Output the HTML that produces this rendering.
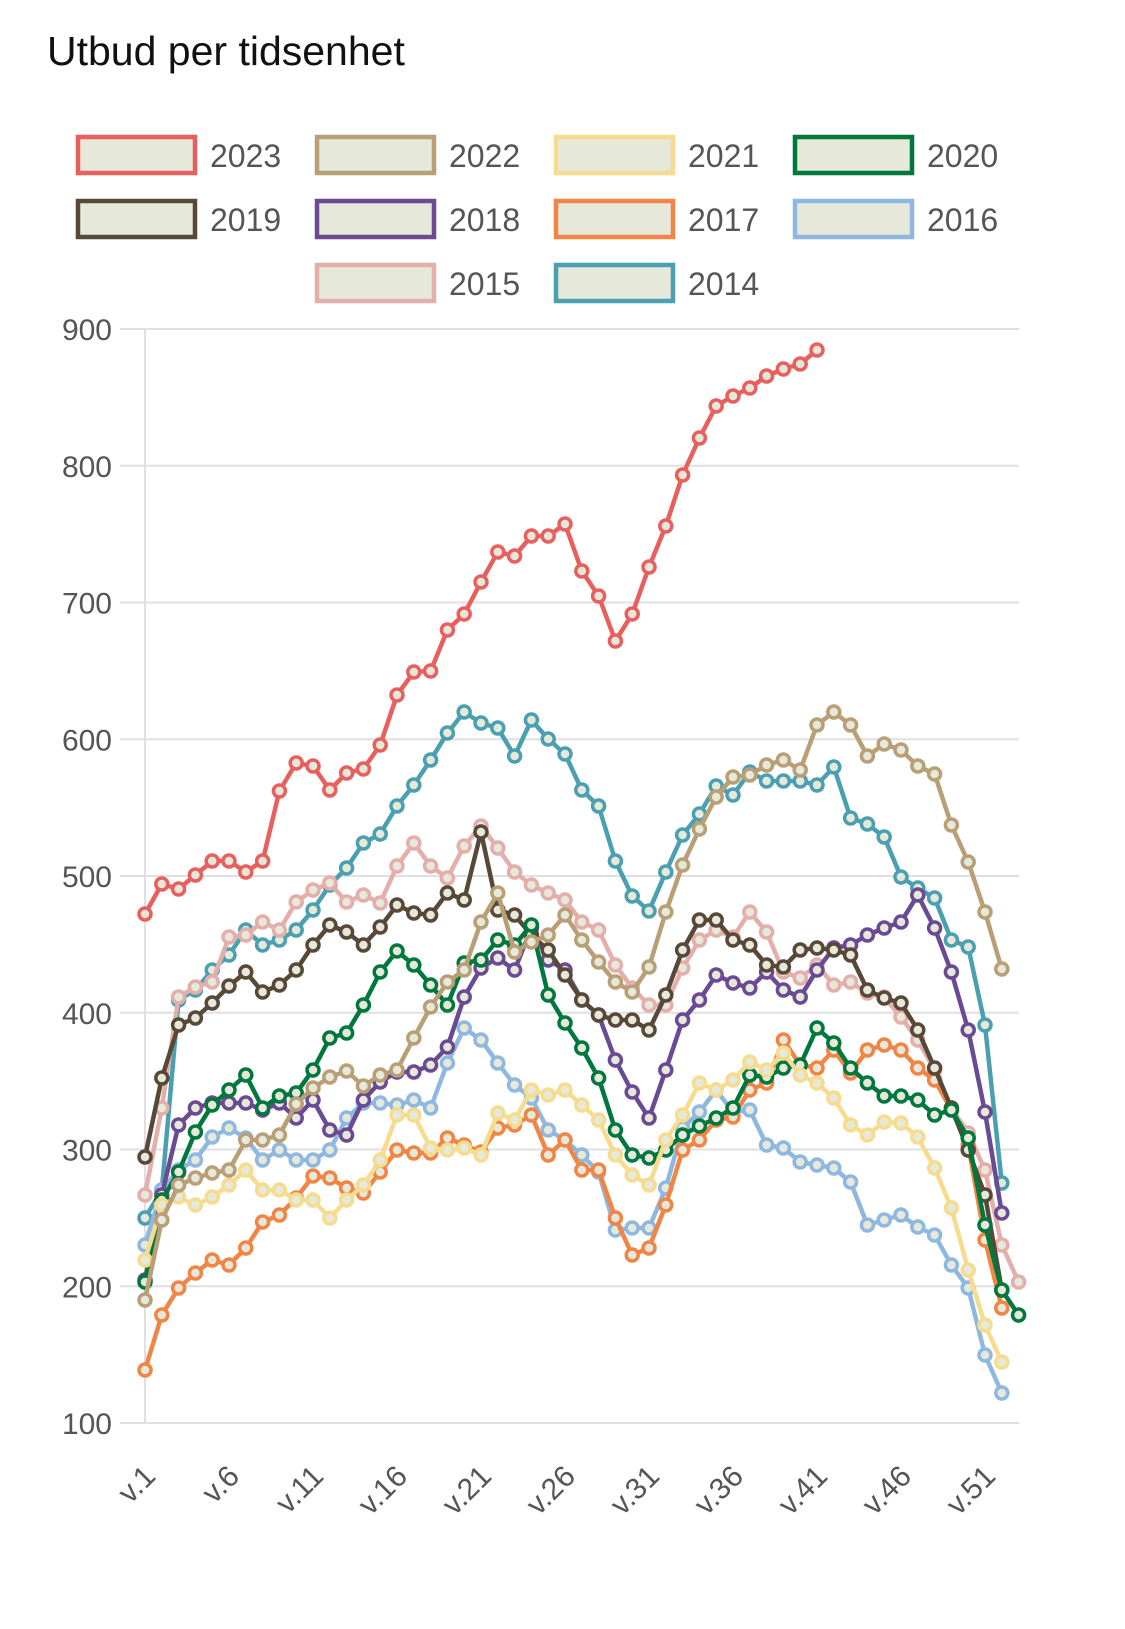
<!DOCTYPE html>
<html><head><meta charset="utf-8">
<style>
body{margin:0;background:#fff;width:1125px;height:1629px;overflow:hidden;font-family:"Liberation Sans",sans-serif;}
svg{position:absolute;left:0;top:0}
</style></head><body>
<svg id="c" width="1125" height="1629" xmlns="http://www.w3.org/2000/svg">
<text x="47" y="65" font-size="41" fill="#111" font-family="Liberation Sans, sans-serif">Utbud per tidsenhet</text>
</svg>
<script>
const s=document.getElementById('c');const NS='http://www.w3.org/2000/svg';
function el(t,a,txt){const e=document.createElementNS(NS,t);for(const k in a)e.setAttribute(k,a[k]);if(txt!==undefined)e.textContent=txt;s.appendChild(e);return e;}
const col={2023:'#e8605e',2022:'#b89f76',2021:'#f5dc8f',2020:'#00773c',2019:'#574838',2018:'#6a4a93',2017:'#f08546',2016:'#8fb8e0',2015:'#e4aeaa',2014:'#4aa0b0'};
const leg=[[2023,78,137],[2022,317,137],[2021,556,137],[2020,795,137],[2019,78,201],[2018,317,201],[2017,556,201],[2016,795,201],[2015,317,265],[2014,556,265]];
leg.forEach(([y,x,t])=>{el('rect',{x:x,y:t,width:117,height:36,fill:'#e6e8da',stroke:col[y],'stroke-width':4.5});
el('text',{x:x+132,y:t+30,'font-size':32,fill:'#555'},y);});
for(let v=100;v<=900;v+=100){const y=329+(900-v)*1.3675;
el('line',{x1:120,x2:1019,y1:y,y2:y,stroke:'#e0e0e0','stroke-width':2});
el('text',{x:112,y:y+11,'font-size':30,fill:'#555','text-anchor':'end'},v);}
el('line',{x1:145,x2:145,y1:329,y2:1423,stroke:'#e0e0e0','stroke-width':2});
const X=i=>145+16.8*i;
for(let w=1;w<=51;w+=5){const x=X(w-1);
el('text',{x:x+12,y:1478,'font-size':30,fill:'#555','text-anchor':'end',transform:`rotate(-45 ${x+12} 1478)`},'v.'+w);}
const d={
2014:[1218,1190,1000,990,970,955,930,945,940,930,910,885,868,843,834,806,785,760,733,712,723,728,756,720,739,754,790,806,861,896,911,872,835,814,786,795,772,781,781,781,785,767,818,824,837,877,888,898,940,947,1025,1183],
2015:[1195,1108,997,987,982,937,935,922,930,902,890,883,902,895,903,866,843,866,878,846,826,848,872,885,893,900,922,930,965,988,1005,1005,968,940,930,937,912,932,972,978,965,985,982,993,997,1017,1040,1070,1108,1133,1170,1245,1282],
2016:[1245,1190,1170,1160,1137,1128,1138,1160,1150,1160,1160,1150,1118,1103,1103,1105,1100,1108,1063,1028,1040,1063,1085,1098,1130,1140,1155,1172,1230,1228,1228,1188,1128,1112,1090,1112,1110,1145,1148,1162,1165,1168,1182,1225,1220,1215,1227,1235,1265,1288,1355,1393],
2017:[1370,1315,1288,1273,1260,1265,1248,1222,1215,1198,1176,1178,1188,1193,1172,1150,1153,1153,1138,1145,1152,1128,1125,1115,1155,1140,1170,1170,1218,1255,1248,1205,1150,1140,1120,1117,1090,1083,1040,1065,1068,1050,1073,1050,1045,1050,1068,1080,1110,1145,1240,1308],
2018:[1280,1195,1125,1108,1103,1103,1103,1110,1103,1118,1100,1130,1135,1100,1082,1072,1072,1065,1047,997,968,958,970,928,960,970,1000,1015,1060,1092,1118,1070,1020,1000,975,983,988,972,990,997,970,948,945,935,928,922,895,928,972,1030,1112,1213],
2019:[1157,1078,1025,1018,1003,986,972,992,985,970,945,925,932,945,927,905,913,915,893,900,832,910,915,935,950,975,1000,1015,1020,1020,1030,995,950,920,920,940,945,965,967,950,948,950,955,990,998,1003,1030,1068,1108,1150,1195,1290],
2020:[1282,1200,1172,1132,1105,1090,1075,1108,1096,1093,1070,1038,1033,1005,972,951,965,985,1005,963,960,940,945,925,995,1023,1048,1078,1130,1155,1158,1150,1135,1126,1118,1108,1075,1077,1068,1065,1028,1043,1068,1083,1096,1096,1100,1115,1110,1138,1225,1290,1315],
2021:[1260,1205,1197,1205,1197,1185,1170,1190,1190,1200,1200,1218,1200,1185,1160,1115,1115,1148,1150,1148,1155,1113,1120,1090,1095,1090,1105,1120,1155,1175,1185,1140,1115,1083,1090,1080,1062,1070,1053,1075,1083,1098,1125,1135,1122,1123,1137,1168,1208,1270,1325,1362],
2022:[1300,1220,1185,1178,1173,1170,1140,1140,1135,1104,1088,1077,1071,1086,1075,1070,1038,1007,982,970,922,893,952,942,935,915,940,962,982,992,967,912,865,829,797,777,775,765,760,770,725,712,725,756,744,750,766,774,825,862,912,969],
2023:[914,884,889,875,861,861,872,861,791,763,766,790,773,769,745,695,672,671,630,614,582,552,556,536,536,524,571,596,641,614,567,526,475,438,406,396,388,376,369,364,350]};
[2014,2015,2016,2017,2018,2019,2020,2021,2022,2023].forEach(y=>{const a=d[y];
el('polyline',{points:a.map((v,i)=>X(i)+','+v).join(' '),fill:'none',stroke:col[y],'stroke-width':4.5,'stroke-linejoin':'round'});
a.forEach((v,i)=>el('circle',{cx:X(i),cy:v,r:6,fill:'#e6e8da',stroke:col[y],'stroke-width':3.5}));});
</script>
</body></html>
